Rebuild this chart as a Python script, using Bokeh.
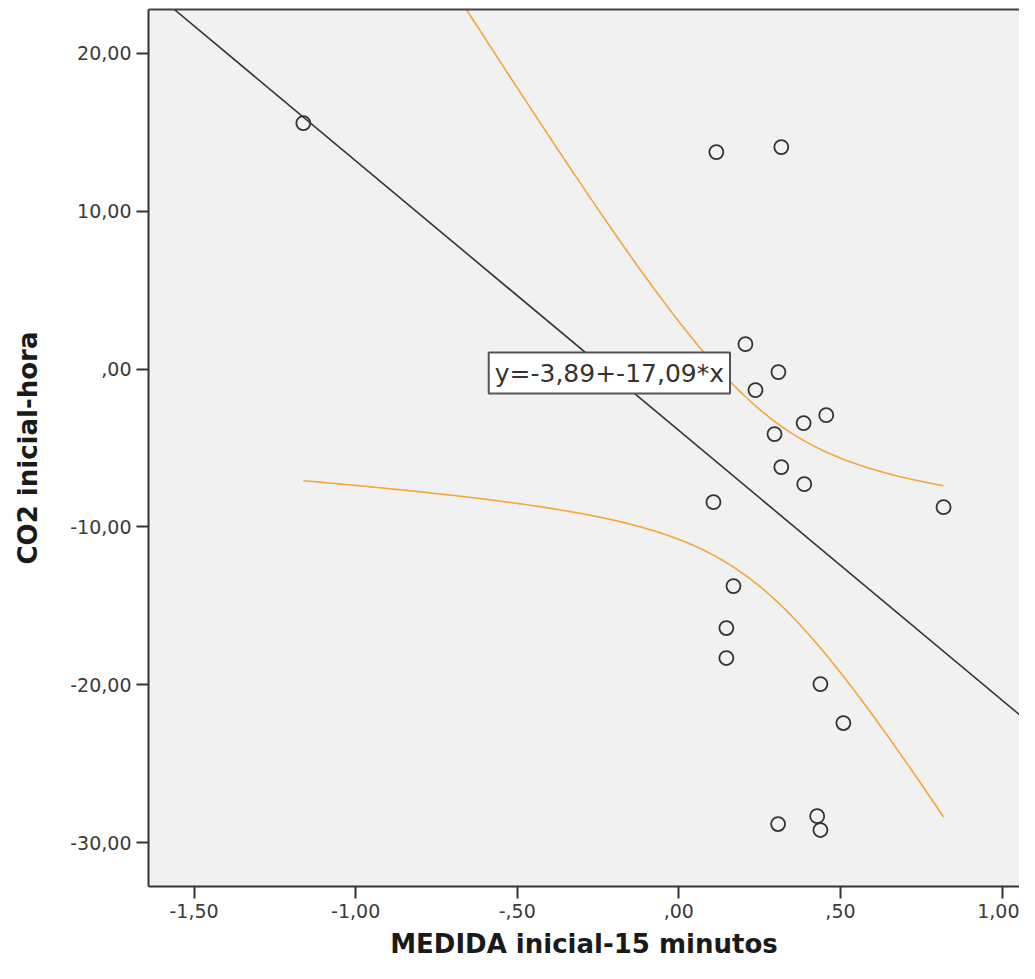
import numpy as np
from bokeh.plotting import figure
from bokeh.models import FixedTicker, Label, Slope, Range1d, LinearAxis
from bokeh.embed import file_html
from bokeh.resources import INLINE

# ---- data ----
medida_15 = [-1.162, 0.116, 0.317, 0.206, 0.308, 0.237, 0.456, 0.386, 0.296, 0.317,
             0.388, 0.107, 0.819, 0.169, 0.147, 0.147, 0.438, 0.509, 0.307, 0.428, 0.438]
co2_hora = [15.59, 13.75, 14.07, 1.58, -0.19, -1.33, -2.92, -3.42, -4.12, -6.21,
            -7.29, -8.43, -8.75, -13.75, -16.41, -18.31, -19.96, -22.43, -28.83, -28.33, -29.21]

intercept = -3.89
slope = -17.09
t_crit = 2.093  # t(0.975, df=19)
equation_text = "y=-3,89+-17,09*x"

x_ticks = [-1.5, -1.0, -0.5, 0.0, 0.5, 1.0]
x_tick_labels = ["-1,50", "-1,00", "-,50", ",00", ",50", "1,00"]
y_ticks = [-30, -20, -10, 0, 10, 20]
y_tick_labels = ["-30,00", "-20,00", "-10,00", ",00", "10,00", "20,00"]

x_title = "MEDIDA inicial-15 minutos"
y_title = "CO2 inicial-hora"

# ---- confidence band for the mean ----
xa = np.array(medida_15)
ya = np.array(co2_hora)
n = len(xa)
resid = ya - (intercept + slope * xa)
s = np.sqrt(np.sum(resid ** 2) / (n - 2))
xbar = xa.mean()
sxx = np.sum((xa - xbar) ** 2)
xs = np.linspace(xa.min(), xa.max(), 200)
fit = intercept + slope * xs
half = t_crit * s * np.sqrt(1.0 / n + (xs - xbar) ** 2 / sxx)

p = figure(width=1019, height=963, output_backend="svg", toolbar_location=None,
           x_range=Range1d(-1.641, 1.054), y_range=Range1d(-32.788, 22.788),
           min_border_left=148, min_border_right=0, min_border_top=9, min_border_bottom=77,
           background_fill_color="#F1F1F1", border_fill_color="white",
           outline_line_color=None)
p.grid.visible = False

xaxis = p.below[0]
yaxis = p.left[0]

for ax, ticks, labels in ((xaxis, x_ticks, x_tick_labels), (yaxis, y_ticks, y_tick_labels)):
    ax.ticker = FixedTicker(ticks=ticks)
    ax.major_label_overrides = {t: l for t, l in zip(ticks, labels)}
    ax.minor_tick_line_color = None
    ax.major_tick_in = 0
    ax.major_tick_out = 12
    ax.major_tick_line_width = 2
    ax.major_tick_line_color = "#333333"
    ax.axis_line_color = "#333333"
    ax.axis_line_width = 2
    ax.major_label_text_font = "DejaVu Sans"
    ax.major_label_text_font_size = "19px"
    ax.major_label_text_color = "#3a3a3a"
    ax.axis_label_text_font = "DejaVu Sans"
    ax.axis_label_text_font_style = "bold"
    ax.axis_label_text_font_size = "26px"
    ax.axis_label_text_color = "#1a1a1a"
    ax.major_label_standoff = 5

xaxis.axis_label = x_title
yaxis.axis_label = y_title
xaxis.axis_label_standoff = 8
yaxis.axis_label_standoff = 24

# top frame border
top_axis = LinearAxis(axis_line_color="#444444", axis_line_width=2,
                      major_tick_line_color=None, minor_tick_line_color=None,
                      major_label_text_font_size="0px", ticker=FixedTicker(ticks=[]))
p.add_layout(top_axis, "above")

p.line(xs, fit + half, line_color="#F4A63A", line_width=1.6)
p.line(xs, fit - half, line_color="#F4A63A", line_width=1.6)
p.add_layout(Slope(gradient=slope, y_intercept=intercept, line_color="#333333", line_width=1.6))

p.scatter(medida_15, co2_hora, size=14, marker="circle", fill_color=None,
          line_color="#333333", line_width=1.8)

p.add_layout(Label(x=-0.215, y=-0.25, text=equation_text, text_align="center",
                   text_baseline="middle", text_font="DejaVu Sans", text_font_size="25px",
                   text_color="#333333", background_fill_color="white",
                   border_line_color="#555555", border_line_width=2, padding=6))

open("out.html", "w").write(file_html(p, INLINE))
